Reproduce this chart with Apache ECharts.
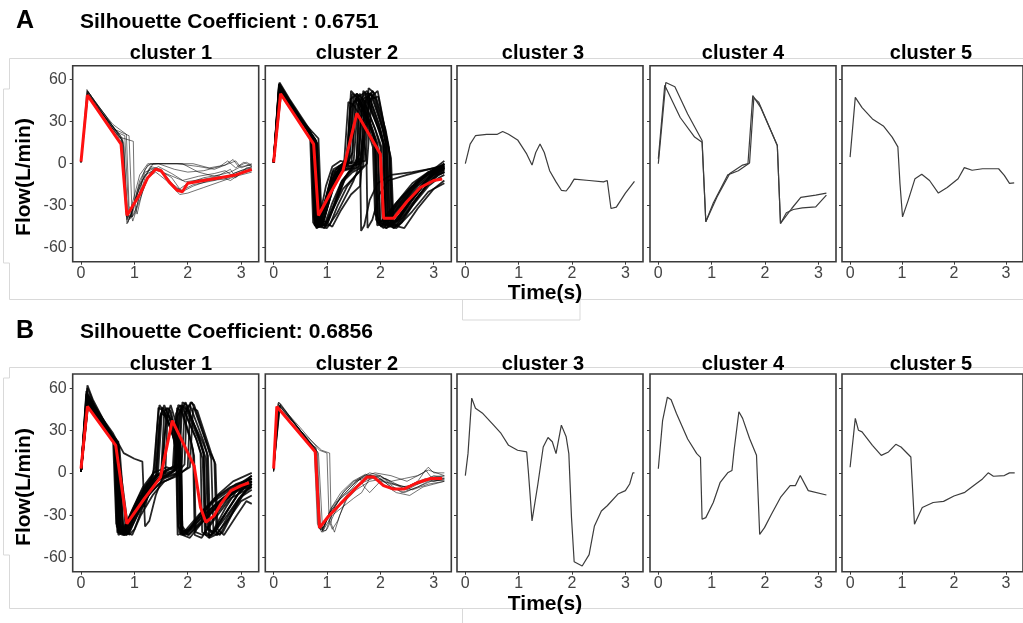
<!DOCTYPE html>
<html>
<head>
<meta charset="utf-8">
<script src="https://cdn.jsdelivr.net/npm/echarts@6/dist/echarts.min.js"></script>
<style>
html,body{margin:0;padding:0;background:#fff}
#chart{width:1023px;height:623px}
</style>
</head>
<body>
<div id="chart"></div>
<script>
// ticks and labels
var timeTicks = [0, 1, 2, 3];
var flowTicks = [-60, -30, 0, 30, 60];
var clusterNames = ['cluster 1', 'cluster 2', 'cluster 3', 'cluster 4', 'cluster 5'];
var rowLetters = ['A', 'B'];
var rowTitles = ['Silhouette Coefficient : 0.6751', 'Silhouette Coefficient: 0.6856'];

// ---- row A, cluster 1 ----
var a1Traces = [
  [[0,1],[0.12,52],[0.4,36],[0.75,16],[0.8,-10],[0.86,-40],[0.95,-30],[1.1,-8],[1.25,0],[1.6,0],[2.1,0],[2.4,-3],[2.7,-1],[2.9,2],[3.0,-3],[3.2,0]],
  [[0,2],[0.13,50],[0.45,33],[0.78,18],[0.88,-42],[1.0,-28],[1.2,-6],[1.4,-3],[1.7,-10],[1.85,-18],[2.0,-14],[2.3,-10],[2.6,-8],[2.8,-4],[2.85,-7],[3.2,-2]],
  [[0,1],[0.11,53],[0.3,42],[0.6,25],[0.9,20],[0.96,-38],[1.05,-30],[1.15,-12],[1.3,-2],[1.5,-4],[1.7,-14],[1.9,-20],[2.1,-16],[2.4,-12],[2.7,-11],[3.0,-6],[3.2,-4]],
  [[0,1],[0.14,51],[0.5,32],[0.8,15],[0.87,-36],[0.95,-38],[1.1,-15],[1.3,-3],[1.5,-6],[1.75,-17],[1.9,-19],[2.1,-15],[2.5,-12],[2.8,-8],[3.0,-5],[3.2,-3]],
  [[0,1],[0.12,49],[0.35,38],[0.7,22],[0.82,20],[0.9,-40],[1.0,-36],[1.2,-10],[1.35,0],[1.8,0],[2.2,-2],[2.5,-4],[2.7,-1],[2.85,3],[2.95,-2],[3.1,1],[3.2,-1]],
  [[0,1],[0.13,50],[0.5,30],[0.76,17],[0.84,-34],[0.92,-39],[1.05,-22],[1.2,-8],[1.4,-4],[1.65,-8],[1.9,-12],[2.2,-9],[2.5,-7],[2.7,-5],[2.9,-10],[3.1,-3],[3.2,-3]],
  [[0,1],[0.12,51],[0.4,34],[0.72,19],[0.98,16],[1.0,-26],[1.05,-36],[1.15,-20],[1.3,-6],[1.45,-2],[1.7,-7],[1.95,-13],[2.3,-11],[2.6,-9],[2.8,-12],[3.0,-7],[3.2,-5]],
  [[0,1],[0.12,52],[0.45,35],[0.77,17],[0.86,-43],[0.95,-35],[1.1,-12],[1.25,-1],[1.45,0],[1.75,-4],[2.0,-6],[2.3,-5],[2.6,-2],[2.75,2],[2.9,-3],[3.05,1],[3.2,-2]],
  [[0,1],[0.13,50],[0.6,28],[0.85,21],[0.9,-30],[0.97,-41],[1.1,-26],[1.25,-10],[1.4,-6],[1.6,-12],[1.85,-22],[2.0,-21],[2.3,-17],[2.6,-13],[2.9,-9],[3.2,-6]],
  [[0,1],[0.11,48],[0.4,36],[0.74,20],[0.8,12],[0.85,-38],[0.93,-38],[1.05,-20],[1.2,-4],[1.3,0],[1.9,0],[2.2,-6],[2.5,-9],[2.8,-6],[3.0,-2],[3.2,-1]]
];
var a1Mean = [[0,1.5],[0.12,49],[0.75,14],[0.86,-37],[1.1,-22],[1.25,-10],[1.4,-4],[1.5,-5],[1.65,-13],[1.8,-19],[1.9,-20],[2.0,-14],[2.3,-12],[2.6,-10],[2.9,-8],[3.2,-4]];

// ---- row A, cluster 2 ----
var a2Traces = [
  [[0,1],[0.1,56],[0.4,38],[0.72,18],[0.78,-44],[0.86,-42],[1.0,-22],[1.12,-4],[1.3,0],[1.42,10],[1.5,48],[1.6,44],[1.85,22],[1.92,14],[1.97,-42],[2.1,-40],[2.4,-24],[2.7,-12],[3.0,-4],[3.2,0]],
  [[0,2],[0.12,54],[0.45,35],[0.75,17],[0.8,-46],[0.9,-44],[1.05,-26],[1.2,-8],[1.35,-2],[1.48,8],[1.56,50],[1.7,45],[1.95,20],[2.02,12],[2.06,-44],[2.2,-42],[2.5,-26],[2.8,-14],[3.0,-8],[3.2,-5]],
  [[0,1],[0.11,57],[0.35,42],[0.7,22],[0.76,-40],[0.84,-44],[0.98,-24],[1.1,-6],[1.25,-2],[1.38,4],[1.45,52],[1.55,48],[1.8,28],[1.9,16],[1.95,-38],[2.05,-44],[2.3,-30],[2.6,-16],[2.9,-6],[3.2,-2]],
  [[0,1],[0.13,53],[0.5,32],[0.8,15],[0.86,-42],[0.98,-45],[1.15,-28],[1.3,-12],[1.45,-4],[1.6,6],[1.68,52],[1.8,47],[2.02,22],[2.1,10],[2.15,-45],[2.28,-43],[2.55,-28],[2.85,-14],[3.05,-8],[3.2,-6]],
  [[0,2],[0.1,55],[0.4,37],[0.74,19],[0.79,-45],[0.88,-42],[1.02,-20],[1.15,-6],[1.32,-4],[1.55,0],[1.62,46],[1.72,50],[1.95,26],[2.05,14],[2.1,-40],[2.2,-44],[2.5,-30],[2.8,-15],[3.0,-6],[3.2,-3]],
  [[0,1],[0.12,52],[0.45,34],[0.78,16],[0.84,-38],[0.95,-40],[1.1,-18],[1.22,-4],[1.4,0],[1.72,2],[1.8,50],[1.92,46],[2.1,20],[2.17,8],[2.22,-42],[2.35,-40],[2.65,-22],[2.9,-10],[3.1,-3],[3.2,0]],
  [[0,1],[0.11,58],[0.3,46],[0.68,24],[0.74,-42],[0.82,-46],[0.95,-30],[1.08,-12],[1.2,-5],[1.32,0],[1.4,44],[1.5,42],[1.76,24],[1.86,12],[1.9,-36],[2.0,-42],[2.25,-30],[2.55,-18],[2.85,-8],[3.2,-2]],
  [[0,1],[0.14,50],[0.55,30],[0.82,14],[0.9,-44],[1.05,-44],[1.2,-30],[1.38,-16],[1.55,-8],[1.75,0],[1.84,48],[1.95,52],[2.12,18],[2.18,6],[2.24,-46],[2.4,-42],[2.7,-24],[2.95,-12],[3.1,-6],[3.2,-4]],
  [[0,2],[0.12,55],[0.42,36],[0.76,17],[0.81,-40],[0.9,-43],[1.03,-22],[1.18,-6],[1.3,-1],[1.5,2],[1.58,42],[1.66,47],[1.9,25],[2.0,12],[2.04,-42],[2.14,-40],[2.45,-26],[2.75,-12],[3.0,-4],[3.2,2]],
  [[0,1],[0.1,52],[0.38,38],[0.72,20],[0.77,-44],[0.85,-40],[0.98,-16],[1.1,-2],[1.25,2],[1.46,0],[1.53,46],[1.64,44],[1.88,20],[1.96,10],[2.0,-44],[2.12,-46],[2.4,-30],[2.7,-16],[2.95,-8],[3.2,-4]],
  [[0,1],[0.13,54],[0.48,33],[0.79,16],[0.85,-43],[0.95,-46],[1.12,-32],[1.3,-18],[1.5,-10],[1.62,-5],[1.7,44],[1.82,50],[2.05,24],[2.12,12],[2.17,-40],[2.3,-44],[2.6,-30],[2.9,-16],[3.1,-10],[3.2,-8]],
  [[0,1],[0.11,53],[0.4,37],[0.73,19],[0.8,-42],[0.88,-41],[1.0,-24],[1.14,-8],[1.28,-3],[1.4,-1],[1.47,50],[1.58,47],[1.82,26],[1.9,16],[1.94,-44],[2.04,-43],[2.3,-28],[2.6,-14],[2.9,-6],[3.2,-1]],
  [[0,1],[0.12,51],[0.5,31],[0.8,16],[0.87,-40],[1.0,-42],[1.2,-24],[1.35,-10],[1.52,-2],[1.66,2],[1.74,47],[1.86,52],[2.06,22],[2.13,10],[2.18,-43],[2.32,-41],[2.6,-26],[2.88,-12],[3.1,-5],[3.2,-3]],
  [[0,2],[0.1,57],[0.36,40],[0.7,21],[0.76,-38],[0.83,-43],[0.97,-26],[1.1,-8],[1.22,-2],[1.36,2],[1.44,40],[1.54,45],[1.78,26],[1.88,14],[1.92,-40],[2.02,-45],[2.28,-32],[2.58,-18],[2.88,-8],[3.2,-3]],
  [[0,1],[0.12,50],[0.45,34],[0.77,18],[0.83,-41],[0.92,-43],[1.08,-20],[1.22,-6],[1.4,-4],[1.55,0],[1.62,4],[1.64,-48],[1.7,-44],[1.8,-26],[1.95,-14],[2.2,-8],[2.6,-6],[3.2,-2]],
  [[0,1],[0.13,52],[0.46,34],[0.78,17],[0.84,-45],[0.96,-43],[1.1,-28],[1.28,-12],[1.42,-6],[1.6,-2],[1.68,20],[1.74,4],[1.76,-46],[1.85,-40],[1.98,-22],[2.15,-12],[2.5,-8],[2.9,-4],[3.2,-1]],
  [[0,1],[0.11,55],[0.44,35],[0.75,18],[0.81,-43],[0.9,-45],[1.04,-27],[1.17,-10],[1.3,-4],[1.55,-3],[1.6,48],[1.75,52],[1.98,28],[2.06,14],[2.1,-46],[2.22,-44],[2.52,-28],[2.82,-14],[3.05,-6],[3.2,-3]],
  [[0,1],[0.12,53],[0.52,31],[0.81,15],[0.88,-44],[1.02,-42],[1.18,-26],[1.32,-12],[1.48,-6],[1.68,-2],[1.78,54],[1.9,50],[2.1,24],[2.16,12],[2.2,-44],[2.34,-44],[2.62,-28],[2.9,-14],[3.1,-8],[3.2,-6]],
  [[0,1],[0.1,54],[0.4,38],[0.72,20],[0.78,-42],[0.87,-44],[1.01,-24],[1.14,-8],[1.28,-2],[1.42,2],[1.5,44],[1.62,50],[1.86,24],[1.95,14],[1.99,-42],[2.1,-44],[2.38,-28],[2.68,-14],[2.96,-6],[3.2,-2]],
  [[0,1],[0.13,55],[0.5,33],[0.79,17],[0.85,-42],[0.96,-44],[1.12,-30],[1.26,-14],[1.44,-4],[1.58,2],[1.65,46],[1.76,48],[2.0,22],[2.08,12],[2.12,-42],[2.26,-46],[2.56,-30],[2.86,-16],[3.08,-8],[3.2,-6]],
  [[0,2],[0.12,51],[0.42,35],[0.76,18],[0.82,-44],[0.92,-42],[1.06,-22],[1.2,-6],[1.36,-2],[1.64,0],[1.72,50],[1.84,50],[2.04,26],[2.1,14],[2.14,-44],[2.28,-42],[2.58,-26],[2.86,-12],[3.06,-4],[3.2,0]],
  [[0,1],[0.11,56],[0.38,39],[0.71,21],[0.77,-44],[0.85,-45],[0.99,-28],[1.12,-12],[1.26,-4],[1.38,0],[1.44,46],[1.56,50],[1.8,30],[1.9,18],[1.95,-42],[2.06,-46],[2.34,-32],[2.62,-18],[2.92,-8],[3.2,-4]],
  [[0,1],[0.12,52],[0.5,32],[0.84,18],[0.9,-40],[1.1,-45],[1.25,-34],[1.45,-22],[1.62,-16],[1.7,20],[1.8,46],[1.96,48],[2.14,14],[2.2,4],[2.25,-44],[2.45,-46],[2.7,-32],[3.0,-18],[3.2,-12]],
  [[0,1],[0.11,54],[0.42,36],[0.74,19],[0.8,-45],[1.0,-46],[1.18,-36],[1.34,-24],[1.5,-12],[1.58,-4],[1.66,40],[1.74,45],[1.98,24],[2.06,14],[2.1,-44],[2.3,-46],[2.6,-34],[2.9,-20],[3.2,-14]]
];
var a2Mean = [[0,1],[0.13,50],[0.75,14],[0.84,-37],[1.05,-22],[1.3,-5],[1.56,36],[2.0,7],[2.06,-39],[2.25,-39],[2.5,-27],[2.75,-17],[3.0,-12],[3.16,-11]];

// ---- row A, clusters 3-5 (single traces) ----
var a3Trace = [[0,0],[0.09,14],[0.19,20],[0.4,21],[0.6,21],[0.7,23],[0.81,21],[0.98,17],[1.15,7],[1.25,-1],[1.32,8],[1.4,14],[1.48,8],[1.58,-5],[1.7,-13],[1.8,-19],[1.89,-19.5],[1.96,-16],[2.04,-11],[2.32,-12],[2.59,-13],[2.66,-12],[2.73,-32],[2.83,-31],[3.0,-21],[3.17,-12.6]];
var a4Traces = [
  [[0,0],[0.14,58],[0.31,55],[0.55,35.5],[0.82,16.6],[0.89,-41.5],[1.03,-28],[1.3,-8],[1.5,-5],[1.71,0.5],[1.79,47],[1.88,44],[2.23,13],[2.29,-42.7],[2.5,-32],[2.67,-24],[2.95,-22.5],[3.15,-21]],
  [[0,3.5],[0.12,56],[0.41,33],[0.68,19],[0.82,15.4],[0.89,-41.5],[1.1,-23.7],[1.34,-7],[1.58,-1],[1.68,0],[1.77,48.6],[1.92,40],[2.23,13],[2.29,-42.7],[2.4,-35],[2.53,-32.7],[2.7,-31.5],[2.95,-30.8],[3.15,-22.5]]
];
var a5Trace = [[0,4.7],[0.1,47.4],[0.23,40],[0.43,32],[0.64,27],[0.81,19],[0.92,12],[0.96,-14],[1.01,-38],[1.12,-26],[1.25,-10.7],[1.38,-7.6],[1.53,-12],[1.7,-21],[1.87,-17],[2.08,-10.7],[2.2,-2.8],[2.35,-4.7],[2.55,-3.6],[2.86,-3.6],[2.97,-8.3],[3.07,-14],[3.16,-13.7]];

// ---- row B, cluster 1 ----
var b1Traces = [
  [[0,1],[0.1,54],[0.35,38],[0.62,24],[0.67,-38],[0.76,-43],[0.9,-36],[1.1,-20],[1.3,-6],[1.38,4],[1.45,46],[1.55,44],[1.75,26],[1.8,18],[1.84,-42],[1.95,-44],[2.2,-36],[2.5,-24],[2.8,-14],[3.0,-8],[3.2,-4]],
  [[0,2],[0.12,60],[0.25,48],[0.6,26],[0.7,22],[0.74,-40],[0.84,-42],[1.0,-30],[1.2,-14],[1.42,-2],[1.48,40],[1.56,48],[1.76,28],[1.83,16],[1.87,-44],[2.0,-42],[2.3,-30],[2.6,-20],[2.9,-10],[3.2,-8]],
  [[0,1],[0.12,50],[0.4,35],[0.66,22],[0.72,-36],[0.82,-42],[0.96,-32],[1.15,-18],[1.36,-8],[1.5,-2],[1.56,44],[1.64,46],[1.8,26],[1.86,14],[1.9,-40],[2.02,-44],[2.3,-34],[2.62,-22],[2.92,-12],[3.2,-6]],
  [[0,1],[0.14,52],[0.45,32],[0.7,20],[0.76,-42],[0.86,-44],[1.0,-30],[1.2,-12],[1.35,-2],[1.42,30],[1.47,48],[1.58,42],[1.74,24],[1.79,12],[1.82,-38],[1.92,-44],[2.2,-32],[2.5,-20],[2.8,-12],[3.2,-2]],
  [[0,1],[0.11,56],[0.3,44],[0.6,28],[0.8,14],[1.0,10],[1.15,8],[1.2,-38],[1.28,-34],[1.4,-16],[1.52,-4],[1.6,46],[1.68,44],[1.82,22],[1.87,10],[1.9,-42],[2.05,-40],[2.35,-28],[2.65,-18],[2.95,-10],[3.2,-6]],
  [[0,1],[0.12,53],[0.42,34],[0.64,23],[0.69,-41],[0.78,-40],[0.92,-30],[1.12,-14],[1.3,-4],[1.4,2],[1.46,34],[1.52,44],[1.7,30],[1.78,16],[1.81,-44],[1.93,-42],[2.2,-30],[2.5,-18],[2.8,-10],[3.2,-4]],
  [[0,1],[0.13,48],[0.4,33],[0.68,21],[0.8,-44],[0.9,-43],[1.05,-30],[1.25,-14],[1.45,-4],[1.58,0],[1.62,40],[1.68,48],[1.84,28],[1.88,16],[1.9,-44],[2.04,-46],[2.34,-32],[2.64,-20],[2.94,-12],[3.2,-10]],
  [[0,2],[0.12,55],[0.38,37],[0.6,24],[0.66,-36],[0.74,-42],[0.88,-38],[1.08,-22],[1.26,-10],[1.4,-3],[1.5,42],[1.6,40],[1.78,20],[1.83,8],[1.86,-36],[1.98,-42],[2.25,-30],[2.55,-16],[2.85,-6],[3.2,0]],
  [[0,1],[0.1,50],[0.36,36],[0.63,23],[0.7,-40],[0.8,-42],[0.95,-28],[1.1,-16],[1.2,-24],[1.3,-10],[1.44,-2],[1.52,46],[1.62,44],[1.78,24],[1.84,12],[1.87,-40],[2.0,-44],[2.28,-34],[2.58,-22],[2.88,-14],[3.2,-8]],
  [[0,1],[0.12,52],[0.42,35],[0.67,22],[0.9,-44],[1.0,-40],[1.16,-24],[1.34,-10],[1.5,-2],[1.56,24],[1.62,42],[1.72,36],[1.85,20],[1.88,-42],[2.02,-40],[2.3,-26],[2.6,-16],[2.9,-8],[3.2,-4]],
  [[0,1],[0.12,52],[0.4,36],[0.66,22],[0.72,-40],[0.82,-42],[0.98,-28],[1.2,-14],[1.45,-4],[1.7,0],[1.82,4],[1.88,48],[2.0,44],[2.3,20],[2.38,12],[2.42,-42],[2.55,-44],[2.8,-28],[3.0,-16],[3.2,-10]],
  [[0,2],[0.1,58],[0.3,44],[0.62,25],[0.68,-42],[0.78,-44],[0.94,-32],[1.16,-16],[1.4,-6],[1.62,-2],[1.78,2],[1.84,44],[1.94,48],[2.22,22],[2.3,14],[2.34,-44],[2.46,-44],[2.74,-30],[2.96,-18],[3.2,-12]],
  [[0,1],[0.13,50],[0.45,33],[0.7,20],[0.78,-38],[0.88,-42],[1.04,-28],[1.26,-12],[1.5,-4],[1.8,0],[1.94,6],[1.98,46],[2.08,50],[2.36,20],[2.44,10],[2.48,-40],[2.6,-44],[2.86,-26],[3.05,-14],[3.2,-8]],
  [[0,1],[0.12,54],[0.36,38],[0.64,23],[0.7,-44],[0.8,-42],[0.96,-30],[1.18,-12],[1.4,-2],[1.6,0],[1.76,2],[1.8,40],[1.9,46],[2.16,24],[2.24,14],[2.27,-42],[2.4,-46],[2.68,-30],[2.92,-16],[3.2,-6]],
  [[0,1],[0.14,51],[0.44,34],[0.72,18],[0.84,-42],[0.96,-44],[1.12,-30],[1.34,-16],[1.56,-6],[1.82,-2],[2.0,4],[2.05,50],[2.12,48],[2.4,16],[2.5,8],[2.54,-44],[2.66,-42],[2.9,-24],[3.1,-12],[3.2,-8]],
  [[0,2],[0.12,62],[0.22,52],[0.58,26],[0.65,24],[0.7,-40],[0.8,-44],[0.96,-30],[1.2,-10],[1.38,-2],[1.7,4],[1.84,6],[1.9,50],[1.98,48],[2.26,20],[2.34,10],[2.38,-40],[2.5,-42],[2.76,-26],[3.0,-12],[3.2,-4]],
  [[0,1],[0.11,53],[0.4,35],[0.68,21],[0.75,-42],[0.85,-44],[1.0,-32],[1.22,-18],[1.46,-8],[1.72,-3],[1.88,2],[1.94,42],[2.04,48],[2.3,22],[2.36,14],[2.4,-46],[2.52,-44],[2.78,-32],[3.0,-20],[3.2,-16]],
  [[0,1],[0.13,55],[0.42,34],[0.66,22],[0.74,-38],[0.84,-40],[1.02,-24],[1.24,-8],[1.44,-2],[1.64,2],[1.76,4],[1.82,48],[1.92,46],[2.18,22],[2.28,10],[2.32,-42],[2.44,-44],[2.72,-28],[2.96,-14],[3.2,-6]],
  [[0,1],[0.12,50],[0.4,34],[0.69,20],[0.8,-44],[0.9,-42],[1.06,-30],[1.3,-14],[1.56,-4],[1.86,0],[2.04,4],[2.1,46],[2.18,44],[2.44,14],[2.52,6],[2.56,-40],[2.68,-44],[2.92,-30],[3.1,-20],[3.2,-22]],
  [[0,1],[0.1,56],[0.34,40],[0.64,24],[0.7,-42],[0.8,-40],[0.96,-26],[1.16,-10],[1.36,0],[1.6,4],[1.76,2],[1.86,44],[1.96,50],[2.22,24],[2.3,12],[2.34,-38],[2.46,-42],[2.72,-24],[2.96,-10],[3.2,-2]],
  [[0,1],[0.12,51],[0.4,35],[0.66,22],[0.72,-42],[0.82,-44],[0.98,-30],[1.2,-14],[1.44,-4],[1.66,0],[1.74,2],[1.8,46],[1.88,44],[2.06,22],[2.12,12],[2.15,-42],[2.28,-44],[2.56,-28],[2.84,-14],[3.2,-6]],
  [[0,2],[0.11,55],[0.38,37],[0.65,23],[0.71,-40],[0.8,-43],[0.96,-28],[1.18,-12],[1.4,-3],[1.62,2],[1.72,4],[1.78,42],[1.86,48],[2.04,26],[2.1,16],[2.13,-44],[2.26,-46],[2.52,-32],[2.8,-18],[3.2,-10]]
];
var b1Mean = [[0,3],[0.12,47],[0.65,19.5],[0.86,-36],[1.18,-18.6],[1.49,-3],[1.71,37],[2.12,5],[2.24,-24.5],[2.34,-35],[2.49,-30.5],[2.62,-22],[2.81,-12.6],[3.0,-9],[3.15,-7]];

// ---- row B, cluster 2 ----
var b2Traces = [
  [[0,3],[0.08,49],[0.4,34],[0.78,16],[0.84,-38],[0.92,-40],[1.05,-28],[1.3,-16],[1.55,-6],[1.8,-2],[2.0,-4],[2.2,-10],[2.4,-12],[2.6,-8],[2.85,-4],[3.0,-6],[3.2,-4]],
  [[0,2],[0.1,50],[0.45,32],[0.8,17],[0.87,-40],[0.95,-38],[1.1,-24],[1.35,-12],[1.6,-4],[1.8,0],[2.0,-2],[2.2,-8],[2.5,-10],[2.7,-6],[2.85,2],[2.95,-3],[3.2,-2]],
  [[0,1],[0.12,47],[0.5,30],[0.9,16],[1.05,14],[1.08,-36],[1.14,-42],[1.24,-30],[1.4,-16],[1.6,-8],[1.85,-4],[2.1,-6],[2.4,-14],[2.7,-10],[2.9,-6],[3.2,-5]],
  [[0,3],[0.11,48],[0.38,36],[0.76,18],[0.82,-36],[0.9,-42],[1.02,-30],[1.2,-20],[1.45,-12],[1.62,-4],[1.7,-10],[1.8,-14],[2.0,-6],[2.3,-8],[2.6,-12],[2.9,-8],[3.2,-6]],
  [[0,1],[0.1,46],[0.42,34],[0.82,15],[0.88,-40],[0.98,-41],[1.12,-26],[1.3,-14],[1.5,-6],[1.75,-2],[1.9,0],[2.2,-2],[2.5,-6],[2.7,-2],[2.8,0],[2.9,4],[3.0,0],[3.2,0]],
  [[0,2],[0.13,49],[0.48,31],[0.84,14],[0.92,-42],[1.0,-40],[1.15,-28],[1.4,-14],[1.65,-6],[1.85,-3],[2.05,-8],[2.3,-14],[2.55,-16],[2.8,-10],[3.0,-8],[3.2,-6]],
  [[0,1],[0.09,50],[0.36,37],[0.7,20],[0.79,18],[0.85,-38],[0.92,-39],[1.05,-30],[1.25,-18],[1.5,-8],[1.7,-2],[1.95,-2],[2.2,-6],[2.45,-4],[2.7,-2],[2.9,2],[3.2,-2]],
  [[0,2],[0.12,48],[0.5,32],[0.86,16],[1.0,14],[1.04,-34],[1.1,-40],[1.2,-34],[1.34,-20],[1.55,-12],[1.8,-6],[2.1,-4],[2.4,-10],[2.7,-8],[3.0,-4],[3.2,-4]],
  [[0,1],[0.11,47],[0.44,33],[0.8,15],[0.86,-37],[0.94,-40],[1.1,-30],[1.3,-24],[1.5,-18],[1.65,-14],[1.8,-4],[2.0,-2],[2.25,-8],[2.5,-12],[2.8,-6],[3.0,-2],[3.2,-3]],
  [[0,2],[0.1,45],[0.4,33],[0.78,17],[0.84,-39],[0.93,-41],[1.06,-26],[1.26,-14],[1.48,-6],[1.72,-1],[1.95,-3],[2.2,-10],[2.45,-14],[2.7,-10],[2.95,-6],[3.2,-5]]
];
var b2Mean = [[0,3],[0.06,47],[0.78,15],[0.86,-39],[1.0,-32],[1.25,-22],[1.56,-10],[1.75,-3],[1.88,-3],[2.06,-9],[2.25,-11.5],[2.44,-11.5],[2.69,-7],[2.94,-4],[3.16,-4]];

// ---- row B, clusters 3-5 (single traces) ----
var b3Trace = [[0,-2],[0.05,13.6],[0.12,52.9],[0.19,45.7],[0.33,42],[0.53,33.8],[0.67,27.9],[0.81,19.5],[0.98,16],[1.15,14.8],[1.18,1.7],[1.25,-34],[1.36,-7.9],[1.46,18.3],[1.55,25],[1.63,22],[1.7,13.6],[1.8,33.8],[1.89,25.5],[1.94,13.6],[1.99,-31.7],[2.04,-63],[2.19,-66],[2.32,-57.9],[2.42,-37.6],[2.55,-27],[2.66,-23.3],[2.86,-15],[3.0,-12.6],[3.08,-7.9],[3.14,0],[3.17,0]];
var b4Trace = [[0,2.9],[0.08,37],[0.17,53.6],[0.24,51.7],[0.34,42],[0.55,24],[0.72,13.6],[0.79,11],[0.82,-32.9],[0.89,-31.7],[1.03,-21],[1.16,-6.7],[1.3,0],[1.38,1.7],[1.42,16],[1.51,43.3],[1.58,38.6],[1.71,24.3],[1.84,12.4],[1.9,-43.6],[1.99,-38.8],[2.12,-29.3],[2.29,-17.4],[2.47,-9],[2.57,-9],[2.66,-1.9],[2.81,-12.6],[3.15,-15.7]];
var b5Trace = [[0,4],[0.1,38.6],[0.16,30.2],[0.23,29],[0.43,19.5],[0.6,12.4],[0.74,14.8],[0.88,20.2],[0.98,18.3],[1.17,11.2],[1.24,-36.4],[1.39,-24.5],[1.6,-21],[1.8,-20.2],[2.0,-16.4],[2.21,-13.8],[2.42,-7.9],[2.55,-4.3],[2.66,0],[2.76,-2.4],[2.97,-1.9],[3.07,0],[3.17,0]];

var panelTraces = [[a1Traces, a2Traces, [a3Trace], a4Traces, [a5Trace]],
                   [b1Traces, b2Traces, [b3Trace], [b4Trace], [b5Trace]]];
var panelMeans = [[a1Mean, a2Mean, null, null, null],
                  [b1Mean, b2Mean, null, null, null]];

var panelLeft = [72.7, 265.3, 457, 650, 842];
var panelTop = [65.7, 374];
var panelHeight = [196, 197.7];
var panelWidth = 186;
var titleX = [171, 357, 543, 743, 931];

var chart = echarts.init(document.getElementById('chart'), null, {renderer: 'canvas'});
var grids = [], xAxes = [], yAxes = [], series = [];
var idx = 0;
for (var r = 0; r < 2; r++) {
  for (var c = 0; c < 5; c++) {
    grids.push({left: panelLeft[c], top: panelTop[r], width: panelWidth, height: panelHeight[r],
      show: true, borderColor: '#3a3a3a', borderWidth: 1.6, backgroundColor: '#fff'});
    xAxes.push({type: 'value', gridIndex: idx, min: -0.156, max: 3.33, position: 'bottom',
      axisLine: {show: false, onZero: false}, splitLine: {show: false},
      axisTick: {show: true, inside: false, length: 3, customValues: timeTicks, lineStyle: {color: '#3a3a3a', width: 1}},
      axisLabel: {show: true, customValues: timeTicks, margin: 4, color: '#444',
        fontSize: 16, fontFamily: 'Liberation Sans'}});
    yAxes.push({type: 'value', gridIndex: idx, min: -70, max: 70, position: 'left',
      axisLine: {show: false, onZero: false}, splitLine: {show: false},
      axisTick: {show: true, inside: false, length: 3, customValues: flowTicks, lineStyle: {color: '#3a3a3a', width: 1}},
      axisLabel: {show: c === 0, customValues: flowTicks, margin: 6, color: '#444',
        fontSize: 16, fontFamily: 'Liberation Sans'}});
    var tr = panelTraces[r][c];
    var mean = panelMeans[r][c];
    var dense = tr.length > 15;
    for (var k = 0; k < tr.length; k++) {
      series.push({type: 'line', xAxisIndex: idx, yAxisIndex: idx, data: tr[k],
        showSymbol: false, silent: true, animation: false,
        lineStyle: mean ? {color: dense ? 'rgba(0,0,0,0.85)' : 'rgba(0,0,0,0.55)', width: dense ? 1.8 : 1}
                        : {color: '#3c3c3c', width: 1.2}});
    }
    if (mean) {
      series.push({type: 'line', xAxisIndex: idx, yAxisIndex: idx, data: mean,
        showSymbol: false, silent: true, animation: false, z: 5,
        lineStyle: {color: '#ff1111', width: 3}});
    }
    idx++;
  }
}

var bold = function (size) { return 'bold ' + size + 'px "Liberation Sans", Arial, sans-serif'; };
var txt = function (s, x, y, size, align, rot) {
  return {type: 'text', x: x, y: y, rotation: rot || 0, z: 20,
    style: {text: s, font: bold(size), fill: '#000', align: align, textAlign: align,
      verticalAlign: 'middle', textVerticalAlign: 'middle'}};
};
var ln = function (x1, y1, x2, y2) {
  return {type: 'line', z: 1, shape: {x1: x1, y1: y1, x2: x2, y2: y2},
    style: {stroke: '#d9d9d9', lineWidth: 1}};
};

var graphics = [
  // faint frame lines from the source screenshot
  ln(9.5, 58.5, 1023, 58.5), ln(9.5, 58.5, 9.5, 89), ln(3.5, 89, 9.5, 89), ln(3.5, 89, 3.5, 263),
  ln(3.5, 263, 9.5, 263), ln(9.5, 263, 9.5, 299.5), ln(9.5, 299.5, 1023, 299.5),
  ln(462.5, 299.5, 462.5, 320), ln(462.5, 320, 580, 320), ln(580, 299.5, 580, 320),
  ln(9.5, 367.5, 1023, 367.5), ln(9.5, 367.5, 9.5, 378), ln(3.5, 378, 9.5, 378), ln(3.5, 378, 3.5, 555),
  ln(3.5, 555, 9.5, 555), ln(9.5, 555, 9.5, 608.5), ln(9.5, 608.5, 1023, 608.5), ln(462.5, 608.5, 462.5, 623)
];
for (var rr = 0; rr < 2; rr++) {
  var baseY = rr === 0 ? 0 : 310;
  graphics.push(txt(rowLetters[rr], 25, baseY + 21, 25, 'center'));
  graphics.push(txt(rowTitles[rr], 80, baseY + 22.7, 21, 'left'));
  for (var cc = 0; cc < 5; cc++) {
    graphics.push(txt(clusterNames[cc], titleX[cc], rr === 0 ? 53.3 : 364, 20, 'center'));
  }
  graphics.push(txt('Flow(L/min)', 24, rr === 0 ? 177 : 487, 21, 'center', Math.PI / 2));
  graphics.push(txt('Time(s)', 545, rr === 0 ? 293 : 604, 21, 'center'));
}

chart.setOption({
  animation: false,
  backgroundColor: '#fff',
  grid: grids,
  xAxis: xAxes,
  yAxis: yAxes,
  series: series,
  graphic: {elements: graphics}
});
</script>
</body>
</html>
